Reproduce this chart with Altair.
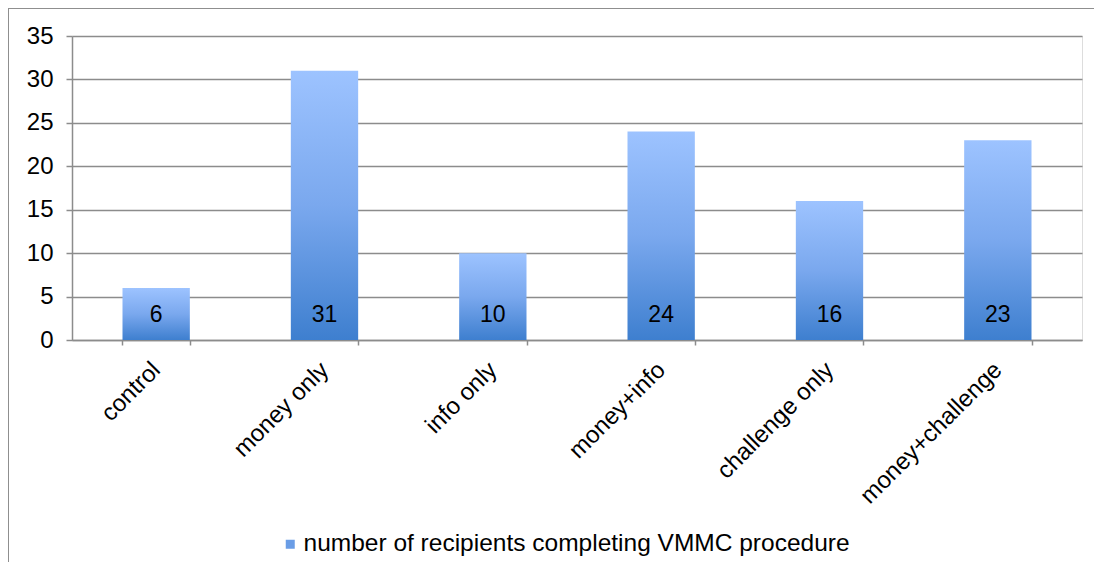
import altair as alt
import pandas as pd

categories = ["control", "money only", "info only", "money+info", "challenge only", "money+challenge"]
values = [6, 31, 10, 24, 16, 23]
series_name = "number of recipients completing VMMC procedure"

df = pd.DataFrame({"cat": categories, "val": values, "series": [series_name] * len(categories)})

FONT = "Liberation Sans"
GRAY = "#8C8C8C"
FS = 24

grad = alt.Gradient(
    gradient="linear",
    stops=[
        alt.GradientStop(color="#9DC3FF", offset=0),
        alt.GradientStop(color="#7AA8EE", offset=0.5),
        alt.GradientStop(color="#3E7FCF", offset=1),
    ],
    x1=0, x2=0, y1=0, y2=1,
)

xenc = alt.X(
    "cat:N", sort=categories, title=None,
    scale=alt.Scale(paddingInner=0.6, paddingOuter=0.3),
    axis=alt.Axis(labelAngle=-45, labelAlign="right", labelBaseline="middle",
                  labelFontSize=FS, labelFont=FONT, labelColor="black", labelLimit=0,
                  tickBand="extent", tickSize=5, tickColor=GRAY, domainColor=GRAY,
                  domainWidth=1.5, tickWidth=1.5, labelPadding=21, grid=False),
)
yenc = alt.Y(
    "val:Q", title=None,
    scale=alt.Scale(domain=[0, 35], nice=False),
    axis=alt.Axis(values=[0, 5, 10, 15, 20, 25, 30, 35], labelFontSize=FS, labelFont=FONT,
                  labelColor="black", tickSize=6, tickColor=GRAY, domainColor=GRAY,
                  domainWidth=1.5, tickWidth=1.5, gridColor=GRAY, gridWidth=1.5,
                  labelPadding=13),
)

bars = alt.Chart(df).mark_bar(color=grad).encode(x=xenc, y=yenc)

legend_layer = alt.Chart(df).mark_square(opacity=0).encode(
    x=alt.X("cat:N", sort=categories),
    y=alt.Y("val:Q"),
    color=alt.Color("series:N", scale=alt.Scale(range=["#6A9DE6"]),
                    legend=alt.Legend(title=None, orient="none", legendX=206, legendY=496,
                                      symbolType="square", symbolSize=81, symbolOpacity=1,
                                      symbolStrokeWidth=0, labelFontSize=24.5, labelFont=FONT,
                                      labelColor="black", labelOffset=1, labelLimit=0)),
)

labels = alt.Chart(df).mark_text(fontSize=23, font=FONT, color="black", baseline="middle", dy=-25).encode(
    x=alt.X("cat:N", sort=categories),
    y=alt.datum(0),
    text=alt.Text("val:Q"),
)

border = alt.Chart(df).mark_rect(fill=None, stroke="#8F8F8F", strokeWidth=1, clip=False).encode(
    x=alt.value(-63.5), x2=alt.value(1200), y=alt.value(-27.5), y2=alt.value(800)
)

chart = alt.layer(bars, legend_layer, labels, border).properties(
    width=1010, height=304,
    padding={"left": 64, "top": 28, "right": 12, "bottom": 222},
    autosize=alt.AutoSizeParams(type="none"),
).configure_view(stroke=None).configure(font=FONT)

chart.save("out.html", embed_options={"renderer": "svg", "actions": False})
